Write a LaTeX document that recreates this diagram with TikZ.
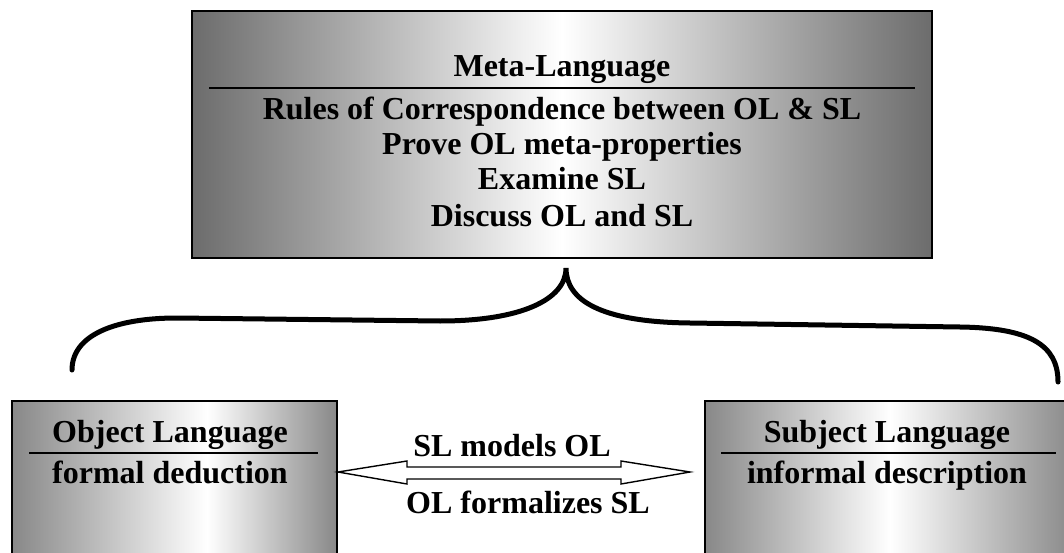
\documentclass[tikz,border=0pt]{standalone}
\usepackage{fontspec}
\setmainfont{Liberation Serif}
\usetikzlibrary{calc}
\definecolor{topgray}{HTML}{6C6C6C}
\definecolor{botgray}{HTML}{888888}
\pgfdeclarehorizontalshading{lboxshade}{100bp}{color(0bp)=(botgray); color(25bp)=(botgray); color(55bp)=(white); color(75bp)=(botgray); color(100bp)=(botgray)}
\pgfdeclarehorizontalshading{rboxshade}{100bp}{color(0bp)=(botgray); color(25bp)=(botgray); color(50bp)=(white); color(75bp)=(botgray); color(100bp)=(botgray)}
\tikzset{
  topbox/.style={draw=black, line width=2pt, rectangle, inner sep=0pt,
    left color=topgray, right color=topgray, middle color=white},
  lowbox/.style={draw=black, line width=1.5pt, rectangle, inner sep=0pt},
  lbl/.style={inner sep=0pt, anchor=base, font=\bfseries\fontsize{32}{36}\selectfont},
  rulebar/.style={line width=1.6pt},
  brace/.style={line width=5pt, line cap=round},
  dblarrow/.style={draw=black, fill=white, line width=1.4pt, line join=miter}
}
\begin{document}
\begin{tikzpicture}[x=1pt,y=-1pt]
\useasboundingbox (0,0) rectangle (1064,553);
\clip (0,0) rectangle (1064,553);
% top box
\node[topbox, minimum width=740pt, minimum height=247pt] (meta) at (562,134.5) {};
\node[lbl] (mt) at (562,77) {Meta-Language};
\coordinate (mrl) at (209,88);
\coordinate (mrr) at (915,88);
\draw[rulebar] (mrl) -- (mrr);
\node[lbl] (m1) at (562,120) {Rules of Correspondence between OL \& SL};
\node[lbl] (m2) at (562,155) {Prove OL meta-properties};
\node[lbl] (m3) at (562,190) {Examine SL};
\node[lbl] (m4) at (562,226) {Discuss OL and SL};
% bottom boxes
\node[lowbox, shading=lboxshade, minimum width=325pt, minimum height=159pt] (ol) at (174.5,480.5) {};
\node[lowbox, shading=rboxshade, minimum width=370pt, minimum height=159pt] (sl) at (890,480.5) {};
\node[lbl] (olt) at (170,442) {Object Language};
\coordinate (orl) at (29,453);
\coordinate (orr) at (318,453);
\draw[rulebar] (orl) -- (orr);
\node[lbl] (old) at (170,483) {formal deduction};
\node[lbl] (slt) at (887,442) {Subject Language};
\coordinate (srl) at (721,453);
\coordinate (srr) at (1056,453);
\draw[rulebar] (srl) -- (srr);
\node[lbl] (sld) at (887,483) {informal description};
% double arrow
\coordinate (al) at (338,472);
\coordinate (ar) at (690,472);
\draw[dblarrow] (al) -- (407,461) -- (407,467) -- (621,467) -- (621,461) -- (ar)
  -- (621,484) -- (621,479) -- (407,479) -- (407,484) -- cycle;
\node[lbl] (a1) at (512,456) {SL models OL};
\node[lbl] (a2) at (528,513) {OL formalizes SL};
% brace
\coordinate (bl) at (72,370);
\coordinate (bc) at (566,268);
\coordinate (br) at (1058,382);
\draw[brace] (bl) .. controls (72,335) and (115,318) .. (177,318)
  -- (440,321) .. controls (520,321) and (566,300) .. (bc)
  .. controls (566,300) and (600,322) .. (690,323)
  -- (960,327) .. controls (1030,328) and (1058,345) .. (br);
\end{tikzpicture}
\end{document}
